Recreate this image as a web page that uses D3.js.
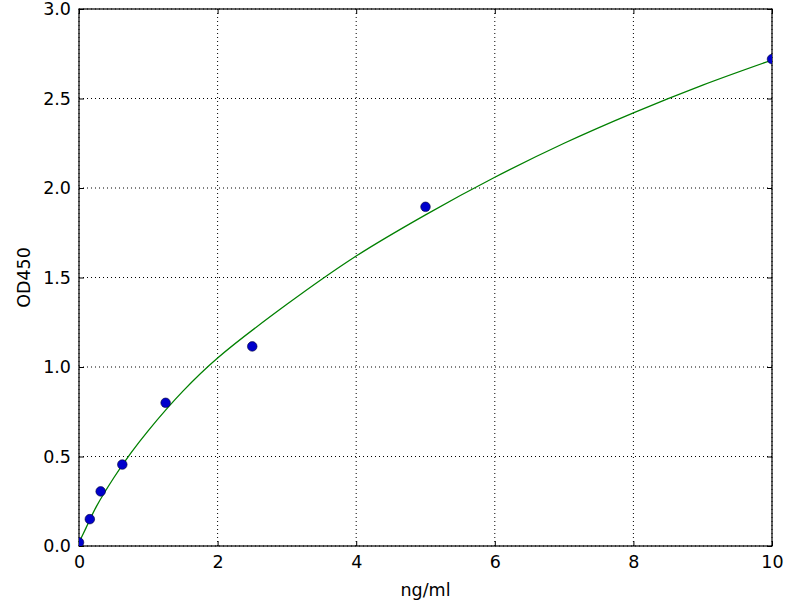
<!DOCTYPE html>
<html>
<head>
<meta charset="utf-8">
<script src="https://cdn.jsdelivr.net/npm/d3@7"></script>
<style>
body { margin: 0; background: #fff; }
text { font-family: "DejaVu Sans", sans-serif; }
</style>
</head>
<body>
<div id="chart"></div>
<script>
// standards (ng/ml) and measured OD450
var conc = [0, 0.156, 0.3125, 0.625, 1.25, 2.5, 5, 10];
var od = [0.02, 0.15, 0.305, 0.455, 0.80, 1.115, 1.895, 2.72];

// fitted curve
var fitX = [0, 0.1, 0.25, 0.5, 0.75, 1, 1.5, 2, 3, 4, 5, 6, 7, 8, 9, 10];
var fitY = [0.02, 0.10, 0.22, 0.38, 0.52, 0.645, 0.865, 1.05, 1.35, 1.62, 1.85, 2.06, 2.25, 2.42, 2.575, 2.715];

var xTicks = [0, 2, 4, 6, 8, 10];
var yTicks = [0, 0.5, 1.0, 1.5, 2.0, 2.5, 3.0];

var margin = { top: 9, right: 28, bottom: 54, left: 79 };
var width = 800 - margin.left - margin.right;
var height = 600 - margin.top - margin.bottom;

var svg = d3.select("#chart").append("svg")
	.attr("width", 800)
	.attr("height", 600);

var g = svg.append("g")
	.attr("transform", "translate(" + margin.left + "," + margin.top + ")");

var x = d3.scaleLinear().domain([0, 10]).range([0, width]);
var y = d3.scaleLinear().domain([0, 3]).range([height, 0]);

// dotted grid
g.append("g").selectAll("line")
	.data(xTicks)
	.enter().append("line")
	.attr("x1", d => x(d)).attr("x2", d => x(d))
	.attr("y1", 0).attr("y2", height)
	.attr("stroke", "#000").attr("stroke-width", 1)
	.attr("stroke-dasharray", "1,3");

g.append("g").selectAll("line")
	.data(yTicks)
	.enter().append("line")
	.attr("x1", 0).attr("x2", width)
	.attr("y1", d => y(d)).attr("y2", d => y(d))
	.attr("stroke", "#000").attr("stroke-width", 1)
	.attr("stroke-dasharray", "1,3");

// axes, ticks pointing inward on all sides
var fmtY = d3.format(".1f");
g.append("g")
	.attr("transform", "translate(0," + height + ")")
	.call(d3.axisBottom(x).tickValues(xTicks).tickSizeInner(-5).tickSizeOuter(0).tickPadding(10).tickFormat(d3.format("d")));
g.append("g")
	.call(d3.axisTop(x).tickValues(xTicks).tickSizeInner(-5).tickSizeOuter(0).tickFormat(""));
g.append("g")
	.call(d3.axisLeft(y).tickValues(yTicks).tickSizeInner(-5).tickSizeOuter(0).tickPadding(8).tickFormat(fmtY));
g.append("g")
	.attr("transform", "translate(" + width + ",0)")
	.call(d3.axisRight(y).tickValues(yTicks).tickSizeInner(-5).tickSizeOuter(0).tickFormat(""));

g.selectAll(".domain").remove();
g.selectAll(".tick text").attr("font-size", 17.5).attr("fill", "#000")
	.style("font-family", "'DejaVu Sans', sans-serif");

// frame
g.append("rect")
	.attr("width", width).attr("height", height)
	.attr("fill", "none").attr("stroke", "#000").attr("stroke-width", 1.2);

// fitted line
var fit = fitX.map((d, i) => ({ x: d, y: fitY[i] }));
g.append("path")
	.datum(fit)
	.attr("fill", "none")
	.attr("stroke", "#008000")
	.attr("stroke-width", 1.3)
	.attr("d", d3.line().x(d => x(d.x)).y(d => y(d.y)).curve(d3.curveCatmullRom.alpha(0.5)));

// points
var pts = conc.map((d, i) => ({ x: d, y: od[i] }));
svg.append("clipPath").attr("id", "clip")
	.append("rect").attr("width", width).attr("height", height);
g.append("g").attr("clip-path", "url(#clip)")
	.selectAll("circle")
	.data(pts)
	.enter().append("circle")
	.attr("cx", d => x(d.x))
	.attr("cy", d => y(d.y))
	.attr("r", 4.8)
	.attr("fill", "#0000cc")
	.attr("stroke", "#000033")
	.attr("stroke-width", 0.6);

// axis labels
svg.append("text")
	.attr("x", margin.left + width / 2)
	.attr("y", 596)
	.attr("text-anchor", "middle")
	.attr("font-size", 17.5)
	.text("ng/ml");

svg.append("text")
	.attr("transform", "translate(30," + (margin.top + height / 2) + ") rotate(-90)")
	.attr("text-anchor", "middle")
	.attr("font-size", 17.5)
	.text("OD450");
</script>
</body>
</html>
